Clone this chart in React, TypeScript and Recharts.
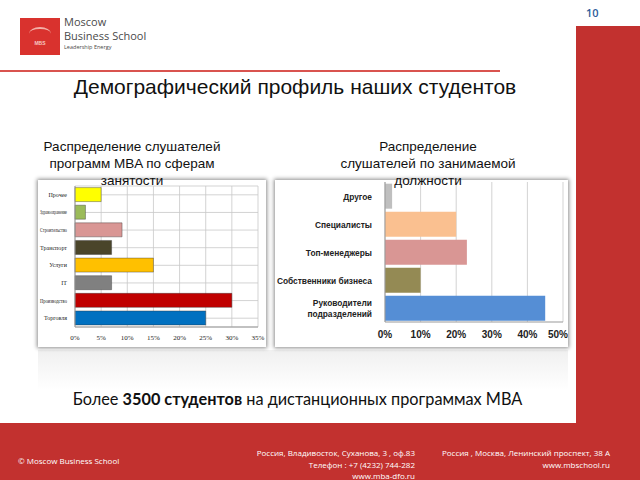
import React from "react";
import { BarChart, Bar, XAxis, YAxis, CartesianGrid, Cell } from "recharts";

// Сферы занятости слушателей MBA, %
const sectors = ["Прочее", "Здравоохранение", "Строительство", "Транспорт", "Услуги", "IT", "Производство", "Торговля"];
const sectorShare = [5, 2, 9, 7, 15, 7, 30, 25];
const sectorColors = ["#FFFF00", "#9BBB59", "#D99694", "#4A452A", "#FFC000", "#808080", "#C00000", "#0070C0"];
const sectorTicks = [0, 5, 10, 15, 20, 25, 30, 35];

// Занимаемая должность, %
const positions = ["Другое", "Специалисты", "Топ-менеджеры", "Собственники бизнеса", "Руководители подразделений"];
const positionShare = [2, 20, 23, 10, 45];
const positionColors = ["#BFBFBF", "#FAC090", "#D99694", "#948A54", "#558ED5"];
const positionTicks = [0, 10, 20, 30, 40, 50];

const sectorData = sectors.map((name, i) => ({ name, value: sectorShare[i] }));
const positionData = positions.map((name, i) => ({ name, value: positionShare[i] }));

const RED = "#C2312F";

// мелкие подписи: длинные сжимаем, чтобы влезли в рамку
const SectorTick = (props: any) => {
  const { x, y, payload } = props;
  const text: string = payload.value;
  const avail = x - 2;
  const squeeze = text.length * 3.1 > avail ? { textLength: avail, lengthAdjust: "spacingAndGlyphs" as const } : {};
  return (
    <text x={x} y={y + 2} textAnchor="end" fill="#222" fontSize={6} fontFamily="Liberation Serif" {...squeeze}>
      {text}
    </text>
  );
};

const PositionTick = (props: any) => {
  const { x, y, payload } = props;
  const text: string = payload.value;
  const lines = text.length > 22 ? text.split(" ") : [text];
  const start = -((lines.length - 1) * 11) / 2;
  return (
    <text x={x - 5} y={y} textAnchor="end" fill="#222" fontSize={8.4} fontFamily="Liberation Sans" fontWeight="bold">
      {lines.map((l, i) => (
        <tspan key={i} x={x - 5} dy={i === 0 ? start + 3.5 : 11}>
          {l}
        </tspan>
      ))}
    </text>
  );
};

// последняя подпись оси прижата к правому краю рамки
const PercentTick = (props: any) => {
  const { x, y, payload } = props;
  const last = payload.value === positionTicks[positionTicks.length - 1];
  return (
    <text
      x={last ? x + 5 : x}
      y={y + 8}
      textAnchor={last ? "end" : "middle"}
      fill="#222"
      fontSize={10}
      fontFamily="Liberation Sans"
      fontWeight="bold"
    >
      {`${payload.value}%`}
    </text>
  );
};

const abs = (left: number, top: number, extra: React.CSSProperties = {}): React.CSSProperties => ({
  position: "absolute",
  left,
  top,
  ...extra,
});

export default function App() {
  return (
    <div style={{ position: "absolute", left: 0, top: 0, width: 640, height: 480, overflow: "hidden", background: "#fff", fontFamily: "Liberation Sans" }}>
      {/* logo */}
      <div style={abs(20, 18, { width: 40, height: 37, background: "#D9322E" })}>
        <div style={{ position: "absolute", left: 0, width: 40, top: 22, textAlign: "center", color: "#f6c8c0", fontSize: 5, fontWeight: "bold" }}>MBS</div>
        <div style={{ position: "absolute", left: 9, top: 9, width: 22, height: 11, borderTop: "2px solid #f3b0a8", borderRadius: "50% 50% 0 0" }} />
      </div>
      <div style={abs(64, 16, { fontFamily: "Open Sans", color: "#4a4a4a", fontSize: 11, lineHeight: "12px", whiteSpace: "nowrap" })}>Moscow</div>
      <div style={abs(64, 30, { fontFamily: "Open Sans", color: "#4a4a4a", fontSize: 11, lineHeight: "12px", whiteSpace: "nowrap" })}>Business School</div>
      <div style={abs(64, 43, { fontFamily: "Open Sans", color: "#4a4a4a", fontSize: 5.5, lineHeight: "8px", whiteSpace: "nowrap" })}>Leadership Energy</div>
      <div style={abs(0, 70, { width: 500, height: 2, background: "#D9534F" })} />

      {/* red side bar + footer */}
      <div style={abs(576, 26, { width: 64, height: 454, background: RED })} />
      <div style={abs(0, 423, { width: 640, height: 57, background: RED })} />
      <div style={abs(586, 5, { fontSize: 11, color: "#2E5C9A", fontFamily: "Open Sans", fontWeight: 600 })}>10</div>

      <div style={abs(0, 75, { width: 590, textAlign: "center", fontSize: 21, color: "#111", whiteSpace: "nowrap" })}>Демографический профиль наших студентов</div>

      {/* reflection */}
      <div style={abs(38, 350, { width: 530, height: 40, background: "linear-gradient(#f0f0f0, #ffffff)" })} />

      {/* chart 1 */}
      <div style={abs(38, 180, { width: 228, height: 167, background: "#fff", boxShadow: "0 0 4px 1px rgba(0,0,0,0.45)" })}>
        <BarChart width={228} height={167} data={sectorData} layout="vertical" margin={{ top: 6, right: 8, bottom: 4, left: 0 }} barCategoryGap="9%">
          <CartesianGrid stroke="#c8c8c8" strokeWidth={0.8} />
          <XAxis
            type="number"
            domain={[0, 35]}
            ticks={sectorTicks}
            tickFormatter={(v) => `${v}%`}
            tick={{ fontSize: 7, fill: "#222", fontFamily: "Liberation Serif" }}
            tickLine={false}
            axisLine={{ stroke: "#999" }}
            height={16}
            interval={0}
          />
          <YAxis
            type="category"
            dataKey="name"
            width={37}
            tick={<SectorTick />}
            tickLine={false}
            axisLine={{ stroke: "#999" }}
            interval={0}
          />
          <Bar dataKey="value" isAnimationActive={false} stroke="#333" strokeWidth={0.4}>
            {sectorData.map((_d, i) => (
              <Cell key={i} fill={sectorColors[i]} />
            ))}
          </Bar>
        </BarChart>
      </div>

      {/* chart 2 */}
      <div style={abs(275, 180, { width: 293, height: 167, background: "#fff", boxShadow: "0 0 4px 1px rgba(0,0,0,0.45)" })}>
        <BarChart width={293} height={167} data={positionData} layout="vertical" margin={{ top: 2, right: 5, bottom: 9, left: 0 }} barCategoryGap="6%">
          <CartesianGrid stroke="#c8c8c8" strokeWidth={0.8} horizontal={false} />
          <XAxis
            type="number"
            domain={[0, 50]}
            ticks={positionTicks}
            tick={<PercentTick />}
            tickLine={false}
            axisLine={{ stroke: "#999" }}
            height={16}
            interval={0}
          />
          <YAxis
            type="category"
            dataKey="name"
            width={110}
            tick={<PositionTick />}
            tickLine={false}
            axisLine={{ stroke: "#999" }}
            interval={0}
          />
          <Bar dataKey="value" isAnimationActive={false}>
            {positionData.map((_d, i) => (
              <Cell key={i} fill={positionColors[i]} />
            ))}
          </Bar>
        </BarChart>
      </div>

      {/* subtitles */}
      <div style={abs(32, 138, { width: 200, textAlign: "center", fontSize: 13.5, lineHeight: "17px", color: "#111" })}>
        Распределение слушателей программ MBA по сферам занятости
      </div>
      <div style={abs(333, 138, { width: 190, textAlign: "center", fontSize: 13.5, lineHeight: "17px", color: "#111" })}>
        Распределение
        <br />
        слушателей по занимаемой должности
      </div>

      <div style={abs(0, 389, { width: 595, textAlign: "center", fontSize: 16.3, fontFamily: "Lato", color: "#111", whiteSpace: "nowrap" })}>
        Более <b>3500 студентов</b> на дистанционных программах MBA
      </div>

      {/* footer text */}
      <div style={abs(18, 455, { fontSize: 8, color: "#fff", fontFamily: "Open Sans" })}>© Moscow Business School</div>
      <div style={abs(215, 447, { width: 200, textAlign: "right", fontSize: 8, lineHeight: "11.5px", color: "#fff", fontFamily: "Open Sans" })}>
        <div>Россия, Владивосток, Суханова, 3 , оф.83</div>
        <div>Телефон : +7 (4232) 744-282</div>
        <div>www.mba-dfo.ru</div>
      </div>
      <div style={abs(410, 447, { width: 200, textAlign: "right", fontSize: 8, lineHeight: "12px", color: "#fff", fontFamily: "Open Sans" })}>
        <div style={{ whiteSpace: "nowrap" }}>Россия , Москва, Ленинский проспект, 38 А</div>
        <div>www.mbschool.ru</div>
      </div>
    </div>
  );
}
